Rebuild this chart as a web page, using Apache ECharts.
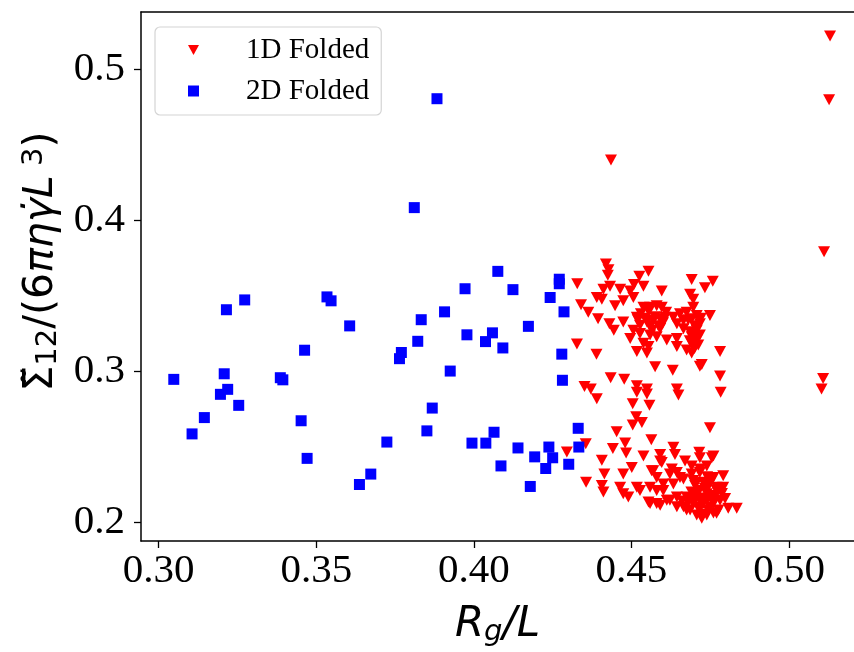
<!DOCTYPE html>
<html>
<head>
<meta charset="utf-8">
<script src="https://cdn.jsdelivr.net/npm/echarts@6/dist/echarts.min.js"></script>
<style>
html,body{margin:0;padding:0;background:#fff;}
#chart{width:854px;height:652px;}
</style>
</head>
<body>
<div id="chart"></div>
<script>
// Stress vs radius of gyration: [Rg/L, Sigma12/(6 pi eta gammadot L^3)]
const folded1D = [
  [0.5130,0.5218],[0.5127,0.4796],[0.5111,0.3790],[0.5108,0.2950],[0.5103,0.2881],[0.4435,0.4398],
  [0.4419,0.3708],[0.4427,0.3671],[0.4425,0.3634],
  [0.4328,0.3578],[0.4525,0.3627],[0.4554,0.3660],[0.4508,0.3573],[0.4411,0.3541],[0.4432,0.3562],
  [0.4464,0.3541],[0.4496,0.3530],[0.4538,0.3562],[0.4390,0.3487],[0.4406,0.3476],[0.4691,0.3606],
  [0.4758,0.3595],[0.4733,0.3552],[0.4596,0.3530],[0.4686,0.3508],[0.4696,0.3476],
  [0.4340,0.3439],[0.4363,0.3390],[0.4394,0.3346],[0.4430,0.3314],[0.4448,0.3432],[0.4474,0.3465],
  [0.4506,0.3487],[0.4474,0.3325],[0.4517,0.3357],[0.4538,0.3422],[0.4559,0.3422],[0.4580,0.3432],
  [0.4596,0.3422],[0.4527,0.3303],[0.4549,0.3325],[0.4569,0.3335],[0.4591,0.3346],[0.4607,0.3357],
  [0.4506,0.3270],[0.4527,0.3249],[0.4559,0.3238],[0.4496,0.3216],[0.4538,0.3184],[0.4554,0.3162],
  [0.4612,0.3205],[0.4644,0.3216],[0.4633,0.3357],[0.4654,0.3379],[0.4675,0.3390],[0.4696,0.3422],
  [0.4707,0.3368],[0.4691,0.3346],[0.4665,0.3335],[0.4644,0.3314],[0.4717,0.3314],[0.4707,0.3270],
  [0.4717,0.3238],[0.4707,0.3205],[0.4712,0.3173],[0.4749,0.3368],[0.4686,0.3260],[0.4691,0.3227],
  [0.4691,0.3184],[0.4675,0.3140],[0.4691,0.3119],[0.4781,0.3130],[0.4327,0.3179],[0.4389,0.3112],
  [0.4517,0.3130],[0.4549,0.3119],[0.4644,0.3162],[0.4580,0.3227],[0.4591,0.3281],[0.4444,0.3270],
  [0.4530,0.3380],[0.4545,0.3350],[0.4560,0.3300],[0.4575,0.3360],[0.4585,0.3300],[0.4600,0.3320],
  [0.4520,0.3340],[0.4565,0.3270],[0.4555,0.3395],[0.4610,0.3390],
  [0.4680,0.3340],[0.4700,0.3300],[0.4695,0.3250],[0.4705,0.3290],[0.4685,0.3200],[0.4700,0.3150],
  [0.4720,0.3350],[0.4665,0.3280],[0.4710,0.3230],
  [0.4781,0.2968],[0.4783,0.2859],[0.4723,0.3043],[0.4351,0.2898],[0.4371,0.2881],[0.4434,0.2956],
  [0.4477,0.2945],[0.4517,0.2903],[0.4549,0.2881],[0.4575,0.3028],[0.4631,0.3006],[0.4644,0.2881],
  [0.4717,0.3032],
  [0.4517,0.2859],[0.4549,0.2848],[0.4649,0.2842],[0.4390,0.2816],[0.4504,0.2783],[0.4557,0.2773],
  [0.4515,0.2697],[0.4533,0.2660],[0.4504,0.2643],[0.4453,0.2599],[0.4441,0.2487],[0.4480,0.2523],
  [0.4483,0.2458],[0.4563,0.2545],[0.4749,0.2625],[0.4295,0.2465],[0.4355,0.2519],[0.4356,0.2264],
  [0.4406,0.2409],[0.4414,0.2318],[0.4406,0.2242],[0.4411,0.2199],[0.4501,0.2361],[0.4474,0.2318],
  [0.4464,0.2231],[0.4474,0.2188],[0.4490,0.2166],[0.4538,0.2437],[0.4569,0.2340],[0.4527,0.2210],
  [0.4517,0.2231],[0.4559,0.2231],[0.4580,0.2210],[0.4591,0.2448],[0.4596,0.2394],[0.4633,0.2495],
  [0.4638,0.2448],[0.4628,0.2351],[0.4644,0.2329],[0.4670,0.2405],[0.4691,0.2372],[0.4715,0.2463],
  [0.4760,0.2437],[0.4717,0.2351],[0.4739,0.2372],[0.4559,0.2123],[0.4591,0.2112],[0.4622,0.2145],
  [0.4644,0.2166],[0.4665,0.2101],[0.4686,0.2080],[0.4707,0.2047],[0.4723,0.2026],[0.4601,0.2210],
  [0.4633,0.2253],[0.4665,0.2286],[0.4696,0.2275],[0.4728,0.2264],[0.4760,0.2296],[0.4770,0.2231],
  [0.4739,0.2145],[0.4760,0.2123],[0.4776,0.2080],[0.4554,0.2134],[0.4580,0.2123],[0.4612,0.2145],
  [0.4675,0.2166],[0.4707,0.2188],[0.4739,0.2188],[0.4770,0.2210],[0.4644,0.2101],[0.4675,0.2080],
  [0.4739,0.2047],[0.4770,0.2058],[0.4797,0.2156],[0.4807,0.2091],[0.4834,0.2091],[0.4791,0.2231],
  [0.4791,0.2307],[0.4696,0.2123],[0.4728,0.2123],[0.4760,0.2134],[0.4654,0.2296],[0.4691,0.2318],
  [0.4717,0.2329],[0.4622,0.2318],[0.4580,0.2296],[0.4601,0.2253],[0.4564,0.2340],[0.4591,0.2405],
  [0.4717,0.2426],[0.4755,0.2426],
  [0.4702,0.2242],[0.4733,0.2223],[0.4756,0.2177],[0.4717,0.2145],[0.4686,0.2158],[0.4781,0.2145],
  [0.4743,0.2080],[0.4711,0.2099],[0.4787,0.2190],[0.4749,0.2262],
  [0.4680,0.2130],[0.4700,0.2160],[0.4720,0.2100],[0.4730,0.2160],[0.4750,0.2100],[0.4765,0.2170],
  [0.4690,0.2200],[0.4715,0.2210],[0.4745,0.2240],[0.4660,0.2140],[0.4725,0.2050],[0.4760,0.2060],
  [0.4700,0.2260],[0.4740,0.2300]
];

const folded2D = [
  [0.3048,0.2945],[0.3106,0.2584],[0.3145,0.2692],[0.3208,0.2982],[0.3219,0.2879],[0.3196,0.2846],
  [0.3215,0.3406],[0.3273,0.3471],[0.3254,0.2773],[0.3386,0.2956],[0.3394,0.2942],[0.3452,0.2671],
  [0.3463,0.3138],[0.3471,0.2422],[0.3534,0.3491],[0.3547,0.3465],[0.3606,0.3299],[0.3637,0.2249],
  [0.3673,0.2318],[0.3724,0.2530],[0.3770,0.3123],[0.3764,0.3082],[0.3822,0.3197],[0.3833,0.3340],
  [0.3851,0.2604],[0.3868,0.2755],[0.3907,0.3392],[0.3811,0.4082],[0.3883,0.4803],[0.4076,0.3660],
  [0.3972,0.3545],[0.4124,0.3539],[0.3978,0.3240],[0.4059,0.3253],[0.4037,0.3195],[0.4092,0.3153],
  [0.4173,0.3296],[0.3925,0.3000],[0.4271,0.3608],[0.4271,0.3578],[0.4242,0.3487],[0.4286,0.3392],
  [0.4279,0.3112],[0.4281,0.2939],[0.3994,0.2523],[0.4038,0.2523],[0.4064,0.2595],[0.4086,0.2372],
  [0.4140,0.2491],[0.4193,0.2432],[0.4238,0.2497],[0.4250,0.2426],[0.4228,0.2355],[0.4179,0.2236],
  [0.4301,0.2383],[0.4331,0.2621],[0.4333,0.2497]
];

const seriesNames = ['1D Folded', '2D Folded'];
const xTicks = [0.30, 0.35, 0.40, 0.45, 0.50];
const yTicks = [0.2, 0.3, 0.4, 0.5];
// the x range runs past the right edge of the page, so no right spine is visible
const xRange = [0.2944, 0.5206];
const yRange = [0.1875, 0.5377];

const serif = 'Liberation Serif';
const sans = 'DejaVu Sans';
// downward-pointing triangle for the 1D legend entry
const downTriangle = 'path://M0,0L22,0L11,20Z';
const spine = {show: true, onZero: false, lineStyle: {color: '#000', width: 1.5}};

const chart = echarts.init(document.getElementById('chart'), null, {renderer: 'canvas'});

chart.setOption({
  animation: false,
  backgroundColor: '#ffffff',
  grid: {left: 141, top: 12, right: 0, bottom: 100.5},
  legend: {
    data: [
      {name: seriesNames[0], icon: downTriangle},
      {name: seriesNames[1], icon: 'rect'}
    ],
    orient: 'vertical',
    left: 155, top: 27,
    padding: [8, 12, 9, 33],
    itemWidth: 11, itemHeight: 11,
    itemGap: 11,
    backgroundColor: '#fff',
    borderColor: '#d4d4d4', borderWidth: 1.2, borderRadius: 5,
    textStyle: {fontFamily: serif, fontSize: 29, color: '#000', lineHeight: 30, padding: [0, 0, 0, 42]}
  },
  xAxis: [
    {
      type: 'value',
      position: 'bottom',
      min: xRange[0], max: xRange[1],
      splitLine: {show: false},
      axisLine: spine,
      axisTick: {show: true, length: 7, inside: false, customValues: xTicks, lineStyle: {color: '#000', width: 1.3}},
      axisLabel: {
        customValues: xTicks, margin: 10,
        fontFamily: serif, fontSize: 41, color: '#000',
        formatter: v => v.toFixed(2)
      },
      name: '{i|R}{s|g}{i|/L}',
      nameLocation: 'middle',
      nameGap: 62,
      nameTextStyle: {
        rich: {
          i: {fontFamily: sans, fontStyle: 'italic', fontSize: 42, color: '#000'},
          s: {fontFamily: sans, fontStyle: 'italic', fontSize: 29, color: '#000', verticalAlign: 'bottom', padding: [15, 0, 0, 0]}
        }
      }
    },
    {
      // top spine only
      type: 'value',
      position: 'top',
      min: xRange[0], max: xRange[1],
      splitLine: {show: false},
      axisLine: spine,
      axisTick: {show: false},
      axisLabel: {show: false}
    }
  ],
  yAxis: {
    type: 'value',
    min: yRange[0], max: yRange[1],
    splitLine: {show: false},
    axisLine: spine,
    axisTick: {show: true, length: 7, inside: false, customValues: yTicks, lineStyle: {color: '#000', width: 1.3}},
    axisLabel: {
      customValues: yTicks, margin: 16,
      fontFamily: serif, fontSize: 41, color: '#000',
      formatter: v => v.toFixed(1)
    },
    name: '{a|\u03A3\u0303}{s|12}{a|/(6}{i|\u03C0\u03B7\u03B3\u0307L}{p| 3}{a|)}',
    nameLocation: 'middle',
    nameGap: 72,
    nameTextStyle: {
      padding: [0, 0, 0, 30],
      rich: {
        a: {fontFamily: sans, fontSize: 41, color: '#000'},
        i: {fontFamily: sans, fontStyle: 'italic', fontSize: 41, color: '#000'},
        s: {fontFamily: sans, fontSize: 29, color: '#000', verticalAlign: 'bottom', padding: [14, 0, 0, 0]},
        p: {fontFamily: sans, fontSize: 29, color: '#000', verticalAlign: 'top', padding: [0, 0, 14, 0]}
      }
    }
  },
  series: [
    {
      name: seriesNames[0],
      type: 'scatter',
      xAxisIndex: 0,
      data: folded1D,
      symbol: 'triangle',
      symbolRotate: 180,
      symbolSize: [12, 11],
      itemStyle: {color: '#ff0000', opacity: 1},
      z: 2
    },
    {
      name: seriesNames[1],
      type: 'scatter',
      xAxisIndex: 0,
      data: folded2D,
      symbol: 'rect',
      symbolSize: 11,
      itemStyle: {color: '#0000ff', opacity: 1},
      z: 3
    }
  ]
});
</script>
</body>
</html>
